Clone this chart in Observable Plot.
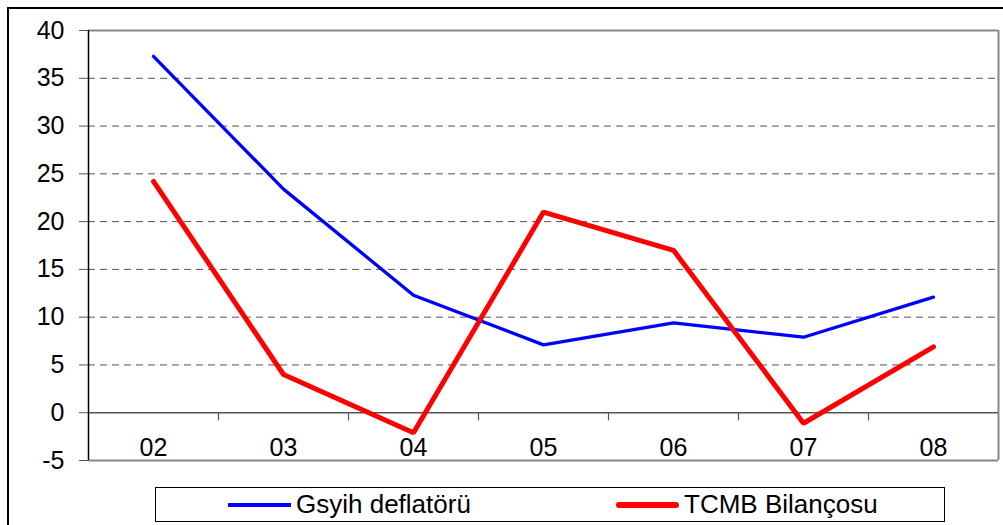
<!DOCTYPE html>
<html><head><meta charset="utf-8">
<script src="https://cdn.jsdelivr.net/npm/d3@7"></script>
<script src="https://cdn.jsdelivr.net/npm/@observablehq/plot@0.6"></script>
<style>
html,body{margin:0;padding:0;background:#fff;overflow:hidden;width:1003px;height:525px;}
#wrap{position:relative;width:1003px;height:525px;font-family:"Liberation Sans",Arial,sans-serif;}
#frame{position:absolute;left:7px;top:7px;width:1010px;height:530px;border:2px solid #000;box-sizing:border-box;}
#chart{position:absolute;left:0;top:0;}
#legend{position:absolute;left:155px;top:487px;width:790px;height:35px;border:1px solid #000;box-sizing:border-box;background:#fff;}
.item{position:absolute;top:0;height:33px;display:flex;align-items:center;font-size:26px;color:#000;}
.sw{display:inline-block;width:63px;margin-right:5px;}
</style></head>
<body><div id="wrap"><div id="frame"></div><div id="chart"></div>
<div id="legend">
<div class="item" style="left:72px"><span class="sw" style="border-top:4px solid #0000ff"></span>Gsyih deflatörü</div>
<div class="item" style="left:460px"><span class="sw" style="border-top:6px solid #ff0000;border-radius:3px"></span>TCMB Bilançosu</div>
</div></div>
<script>
const years = ["02","03","04","05","06","07","08"];
const gsyih = [37.3, 23.4, 12.3, 7.1, 9.4, 7.9, 12.1];
const tcmb = [24.2, 4.0, -2.1, 21.0, 17.0, -1.1, 6.9];
const yTicks = [-5,0,5,10,15,20,25,30,35,40];
const gridTicks = [5,10,15,20,25,30,35];

const idx = years.map((_, i) => i);
const blueData = idx.map(i => ({i, v: gsyih[i]}));
const redData = idx.map(i => ({i, v: tcmb[i]}));
const bounds = idx.slice(0, -1).map(i => i + 0.5);

const chart = Plot.plot({
  width: 1003, height: 485,
  marginLeft: 88, marginRight: 5, marginTop: 30, marginBottom: 25,
  style: {fontFamily: "'Liberation Sans', Arial, sans-serif", background: "transparent"},
  x: {domain: [-0.5, years.length - 0.5], axis: null, label: null},
  y: {domain: [-5, 40], axis: null, label: null},
  marks: [
    Plot.ruleY(gridTicks, {stroke: "#555", strokeWidth: 1, strokeDasharray: "7,5"}),
    Plot.ruleY([40, -5], {stroke: "#888", strokeWidth: 2}),
    Plot.ruleX([years.length - 0.5], {stroke: "#888", strokeWidth: 2}),
    Plot.ruleY([0], {stroke: "#555", strokeWidth: 1.5}),
    Plot.ruleX(bounds, {y1: 0, y2: -0.85, stroke: "#555", strokeWidth: 1.2}),
    Plot.ruleX([-0.5], {stroke: "#000", strokeWidth: 1.5}),
    Plot.axisY({ticks: yTicks, tickSize: 9, tickPadding: 15, fontSize: 25, stroke: "#555", fill: "#000", label: null, tickFormat: d => String(d)}),
    Plot.axisX({ticks: idx, tickFormat: i => years[i], tickSize: 0, tickPadding: 0, dy: -22, fontSize: 25, fill: "#000", label: null}),
    Plot.line(blueData, {x: "i", y: "v", stroke: "#0000ff", strokeWidth: 3.3}),
    Plot.line(redData, {x: "i", y: "v", stroke: "#ff0000", strokeWidth: 5, strokeLinejoin: "miter"})
  ]
});
document.getElementById("chart").appendChild(chart);
</script></body></html>
